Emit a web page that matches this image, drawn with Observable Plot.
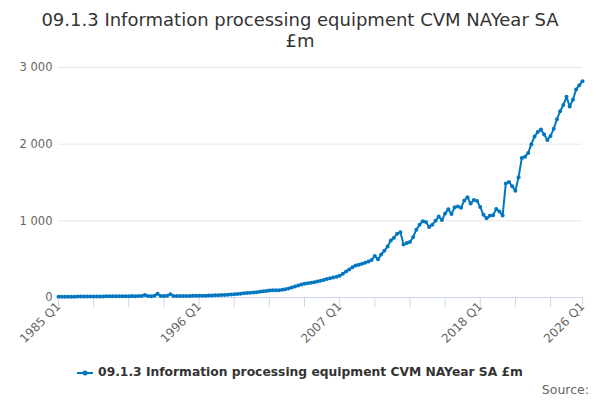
<!DOCTYPE html>
<html><head><meta charset="utf-8">
<script src="https://cdn.jsdelivr.net/npm/d3@7"></script>
<script src="https://cdn.jsdelivr.net/npm/@observablehq/plot@0.6"></script>
<style>
body{margin:0;font-family:"DejaVu Sans",sans-serif;background:#fff}
#wrap{position:relative;width:600px;height:400px;background:#fff;overflow:hidden}
#title{position:absolute;top:9px;left:0;width:600px;text-align:center;font-size:18px;line-height:21px;color:#333}
#chart{position:absolute;top:0;left:0}
#legend{position:absolute;top:365px;left:0;width:600px;text-align:center;font-size:12.3px;font-weight:bold;color:#333;white-space:nowrap}
#legend svg{vertical-align:middle;margin-right:5px}
#source{position:absolute;top:382px;right:11px;font-size:12.5px;color:#666}
</style></head>
<body>
<div id="wrap">
  <div id="chart"></div>
  <div id="title">09.1.3 Information processing equipment CVM NAYear SA<br>£m</div>
  <div id="legend"></div>
  <div id="source">Source:</div>
</div>
<script>
const seriesName = "09.1.3 Information processing equipment CVM NAYear SA £m";
const startYear = 1985;
const values = [
  10, 10, 11, 10, 11, 11, 12, 12,
  12, 13, 13, 14, 13, 14, 14, 15,
  15, 15, 16, 16, 17, 16, 17, 18,
  17, 18, 20, 32, 18, 17, 22, 48,
  20, 18, 22, 42, 20, 18, 19, 20,
  21, 21, 22, 22,
  22, 23, 24, 25, 27, 28, 30, 32, 34, 37,
  40, 43, 46, 50, 54, 58, 62, 66, 70, 75,
  80, 86, 92, 95, 96, 95,
  100, 108, 118, 130, 142, 155,
  168, 180, 185, 192, 200, 208,
  218, 228, 240, 250, 262, 272,
  285, 310, 340, 365, 395, 418, 428, 440, 452, 470, 490, 540,
  498, 560, 610, 665, 745, 780, 830, 852, 690, 710,
  725, 790, 885, 950, 995, 985, 920, 950, 1000, 1055,
  1010, 1095, 1152, 1088, 1177, 1186, 1172, 1264, 1307, 1225,
  1273, 1260, 1182, 1078, 1034, 1065, 1072, 1153, 1123, 1069,
  1488, 1505, 1450, 1394, 1570, 1818, 1837, 1885, 2000, 2100,
  2160, 2190, 2125, 2054, 2108, 2200, 2325, 2430, 2510, 2618,
  2490, 2580, 2714, 2770, 2822
];
const quarters = values.map((_, i) => `${startYear + Math.floor(i / 4)} Q${(i % 4) + 1}`);
const tickLabels = ["1985 Q1", "1996 Q1", "2007 Q1", "2018 Q1", "2026 Q1"];
const yTicks = [0, 1000, 2000, 3000];
const color = "#0077c0";

const data = values.map((v, i) => ({i, q: quarters[i], v}));
const n = values.length;
const tickIdx = d3.range(0, n - 1, 11);
if (tickIdx[tickIdx.length - 1] !== n - 1) tickIdx.push(n - 1);
const labelIdx = tickLabels.map(l => quarters.indexOf(l));
const fmt = d => d3.format(",")(d).replace(/,/g, " ");

const chart = Plot.plot({
  width: 600, height: 345,
  marginTop: 67, marginBottom: 48, marginLeft: 58, marginRight: 18,
  x: {type: "linear", domain: [0, n - 1], axis: null},
  y: {domain: [0, 3000], axis: null},
  style: {fontFamily: "DejaVu Sans, sans-serif", fontSize: "12px", background: "transparent", overflow: "visible"},
  marks: [
    Plot.gridY(yTicks.slice(1), {stroke: "#e6e6e6", strokeOpacity: 1}),
    Plot.axisY(yTicks, {tickSize: 0, tickPadding: 6, tickFormat: fmt, fill: "#666", fontSize: 11.5, label: null}),
    Plot.ruleY([0], {stroke: "#ccd6eb"}),
    Plot.axisX(tickIdx, {tickSize: 10, stroke: "#ccd6eb", strokeOpacity: 1, tickFormat: () => "", label: null}),
    Plot.axisX(labelIdx, {tickSize: 0, tickPadding: 7, tickFormat: i => quarters[i], tickRotate: -45, fill: "#666", fontSize: 12, label: null}),
    Plot.line(data, {x: "i", y: "v", stroke: color, strokeWidth: 2}),
    Plot.dot(data, {x: "i", y: "v", r: 2, fill: color})
  ]
});
document.getElementById("chart").appendChild(chart);

document.getElementById("legend").innerHTML =
  `<svg width="16" height="10"><line x1="0" y1="5" x2="16" y2="5" stroke="${color}" stroke-width="2"/><circle cx="8" cy="5" r="2.5" fill="${color}"/></svg>` +
  `<span>${seriesName}</span>`;
</script>
</body></html>
